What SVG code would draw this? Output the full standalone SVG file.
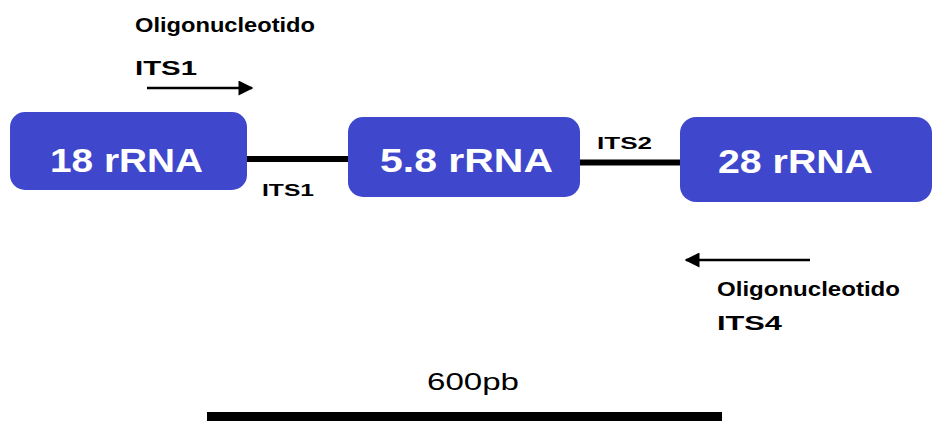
<svg xmlns="http://www.w3.org/2000/svg" width="935" height="421" viewBox="0 0 935 421">
<style>
.box{fill:#3f48cc;}
.bt{fill:#ffffff;font-family:"Liberation Sans",Arial,sans-serif;font-weight:bold;font-size:33px;}
.lb{fill:#000000;font-family:"Liberation Sans",Arial,sans-serif;font-weight:bold;font-size:20px;}
.sm{fill:#000000;font-family:"Liberation Sans",Arial,sans-serif;font-weight:bold;font-size:17px;}
.rg{fill:#000000;font-family:"Liberation Sans",Arial,sans-serif;font-size:24px;}
.thick{stroke:#000;stroke-width:6;fill:none;}
.arr{stroke:#000;stroke-width:2.5;fill:none;}
</style>
<defs>
<marker id="ah" viewBox="0 0 10 10" refX="9" refY="5" markerWidth="7" markerHeight="6" orient="auto" markerUnits="strokeWidth">
<path d="M0,0 L10,5 L0,10 z" fill="#000"/>
</marker>
</defs>
<g id="connectors">
<line class="thick" x1="246" y1="159" x2="349" y2="159"/>
<line class="thick" x1="579" y1="162.5" x2="682" y2="162.5"/>
<line class="arr" x1="147" y1="88" x2="252" y2="88" marker-end="url(#ah)"/>
<line class="arr" x1="810" y1="260" x2="686" y2="260" marker-end="url(#ah)"/>
<rect x="207" y="412" width="515" height="12" fill="#000"/>
</g>
<g id="node-18">
<rect class="box" x="10" y="112" width="237" height="78" rx="15"/>
<text class="bt" x="50" y="172" textLength="153" lengthAdjust="spacingAndGlyphs">18 rRNA</text>
</g>
<g id="node-58">
<rect class="box" x="348" y="117" width="232" height="80" rx="15"/>
<text class="bt" x="380" y="172" textLength="173" lengthAdjust="spacingAndGlyphs">5.8 rRNA</text>
</g>
<g id="node-28">
<rect class="box" x="680" y="117" width="252" height="85" rx="16"/>
<text class="bt" x="718" y="173" textLength="155" lengthAdjust="spacingAndGlyphs">28 rRNA</text>
</g>
<g id="labels">
<text class="sm" x="262" y="196" textLength="52" lengthAdjust="spacingAndGlyphs">ITS1</text>
<text class="sm" x="597" y="149" textLength="55" lengthAdjust="spacingAndGlyphs">ITS2</text>
<text class="lb" x="135" y="32" textLength="180" lengthAdjust="spacingAndGlyphs">Oligonucleotido</text>
<text class="lb" x="135" y="75" textLength="62" lengthAdjust="spacingAndGlyphs">ITS1</text>
<text class="lb" x="717" y="296" textLength="183" lengthAdjust="spacingAndGlyphs">Oligonucleotido</text>
<text class="lb" x="717" y="330" textLength="65" lengthAdjust="spacingAndGlyphs">ITS4</text>
<text class="rg" x="427" y="390" textLength="92" lengthAdjust="spacingAndGlyphs">600pb</text>
</g>
</svg>
